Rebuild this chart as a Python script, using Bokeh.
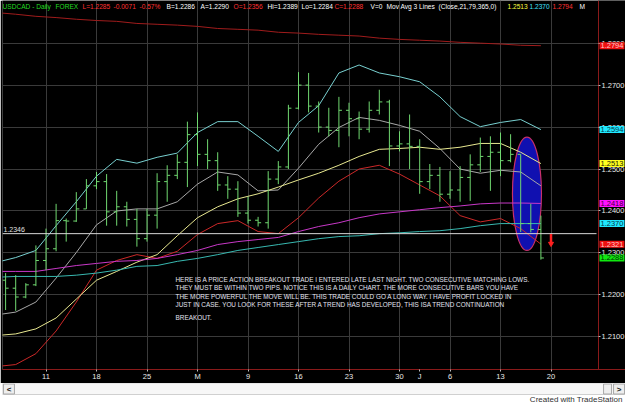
import numpy as np
from bokeh.plotting import figure
from bokeh.models import Range1d, FixedTicker, NumeralTickFormatter, Label
from bokeh.layouts import column
from bokeh.embed import file_html
from bokeh.resources import INLINE

# ---------------- data (USDCAD daily) ----------------
bar_idx = list(range(1, 55))          # trading-day index, 0 = Mon Apr 4
bar_open = [1.2235, 1.2216, 1.2195, 1.2224, 1.2282, 1.2310, 1.2377, 1.2376, 1.2405, 1.2460,
            1.2470, 1.2398, 1.2410, 1.2380, 1.2334, 1.2390, 1.2470, 1.2485, 1.2516, 1.2582,
            1.2535, 1.2520, 1.2462, 1.2452, 1.2395, 1.2378, 1.2372, 1.2476, 1.2505, 1.2645,
            1.2700, 1.2650, 1.2600, 1.2592, 1.2640, 1.2620, 1.2595, 1.2640, 1.2660, 1.2555,
            1.2560, 1.2554, 1.2470, 1.2485, 1.2440, 1.2450, 1.2480, 1.2510, 1.2530, 1.2540,
            1.2520, 1.2535, 1.2370, 1.2356]
bar_high = [1.2252, 1.2247, 1.2228, 1.2318, 1.2358, 1.2417, 1.2382, 1.2445, 1.2476, 1.2493,
            1.2488, 1.2448, 1.2422, 1.2405, 1.2405, 1.2490, 1.2509, 1.2535, 1.2613, 1.2635,
            1.2571, 1.2540, 1.2483, 1.2471, 1.2434, 1.2386, 1.2495, 1.2519, 1.2653, 1.2731,
            1.2729, 1.2661, 1.2646, 1.2672, 1.2658, 1.2637, 1.2661, 1.2689, 1.2665, 1.2590,
            1.2630, 1.2571, 1.2512, 1.2505, 1.2495, 1.2507, 1.2535, 1.2575, 1.2578, 1.2587,
            1.2583, 1.2535, 1.2417, 1.2389]
bar_low = [1.2164, 1.2162, 1.2192, 1.2221, 1.2259, 1.2304, 1.2327, 1.2374, 1.2405, 1.2452,
           1.2365, 1.2365, 1.2363, 1.2315, 1.2327, 1.2358, 1.2422, 1.2476, 1.2457, 1.2507,
           1.2500, 1.2448, 1.2429, 1.2386, 1.2370, 1.2363, 1.2358, 1.2464, 1.2500, 1.2642,
           1.2635, 1.2587, 1.2578, 1.2552, 1.2578, 1.2571, 1.2587, 1.2630, 1.2507, 1.2542,
           1.2500, 1.2441, 1.2452, 1.2422, 1.2429, 1.2422, 1.2424, 1.2493, 1.2448, 1.2483,
           1.2516, 1.2350, 1.2349, 1.2284]
bar_close = [1.2216, 1.2195, 1.2224, 1.2282, 1.2310, 1.2377, 1.2376, 1.2405, 1.2460, 1.2470,
             1.2398, 1.2410, 1.2380, 1.2334, 1.2390, 1.2470, 1.2485, 1.2516, 1.2582, 1.2535,
             1.2520, 1.2462, 1.2452, 1.2395, 1.2378, 1.2372, 1.2476, 1.2505, 1.2645, 1.2700,
             1.2650, 1.2600, 1.2592, 1.2640, 1.2620, 1.2595, 1.2640, 1.2660, 1.2555, 1.2560,
             1.2554, 1.2470, 1.2485, 1.2440, 1.2450, 1.2480, 1.2510, 1.2530, 1.2540, 1.2520,
             1.2535, 1.2370, 1.2356, 1.2288]

line_idx = [0, 2, 4, 6, 8, 10, 12, 14, 16, 18, 20, 22, 24, 26, 28, 30, 32, 34, 36, 38,
            40, 42, 44, 46, 48, 50, 52, 54]
band_upper = [1.2277, 1.2289, 1.2306, 1.2365, 1.2422, 1.2483, 1.2523, 1.2514, 1.2528, 1.2538,
              1.2587, 1.2613, 1.2613, 1.2578, 1.2542, 1.2611, 1.2651, 1.2729, 1.2748, 1.2729,
              1.2720, 1.2708, 1.2672, 1.2625, 1.2601, 1.2611, 1.2618, 1.2594]
band_mid = [1.2152, 1.2159, 1.2183, 1.2240, 1.2301, 1.2367, 1.2400, 1.2405, 1.2405, 1.2422,
            1.2464, 1.2493, 1.2486, 1.2448, 1.2450, 1.2502, 1.2559, 1.2599, 1.2623, 1.2616,
            1.2604, 1.2590, 1.2549, 1.2500, 1.2490, 1.2497, 1.2493, 1.2460]
band_lower = [1.2029, 1.2034, 1.2060, 1.2114, 1.2183, 1.2259, 1.2282, 1.2296, 1.2287, 1.2304,
              1.2344, 1.2370, 1.2377, 1.2351, 1.2346, 1.2384, 1.2431, 1.2471, 1.2500, 1.2509,
              1.2488, 1.2462, 1.2436, 1.2389, 1.2374, 1.2382, 1.2358, 1.2321]
ma21 = [1.2103, 1.2107, 1.2119, 1.2145, 1.2190, 1.2235, 1.2256, 1.2278, 1.2296, 1.2341,
        1.2384, 1.2410, 1.2429, 1.2441, 1.2457, 1.2474, 1.2490, 1.2509, 1.2530, 1.2547,
        1.2549, 1.2552, 1.2547, 1.2552, 1.2561, 1.2561, 1.2540, 1.2513]
ma79 = [1.2242, 1.2244, 1.2244, 1.2244, 1.2247, 1.2252, 1.2259, 1.2268, 1.2270, 1.2280,
        1.2287, 1.2296, 1.2306, 1.2313, 1.2320, 1.2327, 1.2334, 1.2339, 1.2341, 1.2346,
        1.2348, 1.2351, 1.2353, 1.2358, 1.2365, 1.2370, 1.2370, 1.2370]
ma365 = [1.2873, 1.2869, 1.2864, 1.2861, 1.2857, 1.2854, 1.2852, 1.2847, 1.2845, 1.2843,
         1.2840, 1.2835, 1.2833, 1.2831, 1.2826, 1.2824, 1.2821, 1.2819, 1.2817, 1.2812,
         1.2809, 1.2807, 1.2805, 1.2802, 1.2800, 1.2798, 1.2795, 1.2794]
ma_magenta = [1.2256, 1.2256, 1.2256, 1.2263, 1.2270, 1.2275, 1.2280, 1.2282, 1.2287, 1.2296,
              1.2306, 1.2320, 1.2327, 1.2332, 1.2337, 1.2351, 1.2363, 1.2372, 1.2384, 1.2393,
              1.2398, 1.2403, 1.2408, 1.2412, 1.2417, 1.2419, 1.2419, 1.2418]

date_tick_idx = [5, 10, 15, 20, 25, 30, 35, 40, 42, 45, 50, 55]
date_tick_labels = ["11", "18", "25", "M", "9", "16", "23", "30", "J", "6", "13", "20"]
week_idx = [5, 10, 15, 20, 25, 30, 35, 40, 45, 50, 55]
price_ticks = [1.21, 1.22, 1.23, 1.24, 1.25, 1.26, 1.27, 1.28]

breakout_level = 1.2346
ellipse_x, ellipse_y, ellipse_w, ellipse_h = 52.62, 1.2441, 2.87, 0.0270
marker_idx, marker_top, marker_bottom = 55, 1.2345, 1.2322

title_parts = [("USDCAD - Daily", "#22dd22", 2), ("FOREX", "#22dd22", 55),
               ("L=1.2285", "#ff3030", 82), ("-0.0071", "#ff3030", 113),
               ("-0.57%", "#ff3030", 139), ("B=1.2286", "#ffffff", 166),
               ("A=1.2290", "#ffffff", 200), ("O=1.2356", "#ff3030", 233),
               ("Hi=1.2389", "#ffffff", 267), ("Lo=1.2284", "#ffffff", 301),
               ("C=1.2288", "#ff3030", 334), ("V=0", "#ffffff", 370),
               ("Mov Avg 3 Lines", "#ffffff", 386), ("(Close,21,79,365,0)", "#ffffff", 438),
               ("1.2513", "#ffff40", 507), ("1.2370", "#40e0ff", 529),
               ("1.2794", "#ff3030", 552), ("M", "#ffffff", 579)]

note_lines = ["HERE IS A PRICE ACTION BREAKOUT TRADE I ENTERED LATE LAST NIGHT. TWO CONSECUTIVE MATCHING LOWS.",
              "THEY MUST BE WITHIN TWO PIPS. NOTICE THIS IS A DAILY CHART. THE MORE CONSECUTIVE BARS YOU HAVE",
              "THE MORE POWERFUL THE MOVE WILL BE. THIS TRADE COULD GO A LONG WAY. I HAVE PROFIT LOCKED IN",
              "JUST IN CASE.   YOU  LOOK FOR THESE AFTER A TREND HAS DEVELOPED, THIS ISA TREND CONTINUATION",
              "BREAKOUT."]

# ---------------- layout constants ----------------
W, H_MAIN, H_FOOT = 625, 383, 20
FL, FT, FB = 2, 0, 372          # frame left/top/bottom in canvas px (frame spans to the right edge)
AXIS_PX = 598                   # where the price scale sits
PX_PER_BAR, PX_OFF = 10.1, -5.0
FONT = "Liberation Sans"


def px2x(px):
    return (px - PX_OFF) / PX_PER_BAR


X0, X1 = px2x(FL), px2x(W)
Y0, Y1 = 1.20222, 1.29017


def py2y(py):
    return Y1 - (py - FT) / (FB - FT) * (Y1 - Y0)


p = figure(width=W, height=H_MAIN, x_range=Range1d(X0, X1), y_range=Range1d(Y0, Y1),
           output_backend="svg", toolbar_location=None, y_axis_location="right",
           background_fill_color="black", border_fill_color="black",
           min_border_left=FL, min_border_right=0, min_border_top=0,
           min_border_bottom=H_MAIN - FB)
p.outline_line_color = None

# axes
xa = p.xaxis[0]
xa.ticker = FixedTicker(ticks=date_tick_idx)
xa.major_label_overrides = {t: l for t, l in zip(date_tick_idx, date_tick_labels)}
ya = p.yaxis[0]
ya.fixed_location = px2x(AXIS_PX)
ya.ticker = FixedTicker(ticks=price_ticks)
ya.formatter = NumeralTickFormatter(format="0.0000")
for ax in (xa, ya):
    ax.axis_line_color = "#8a1a1a"
    ax.major_tick_line_color = "#c0c0c0"
    ax.minor_tick_line_color = None
    ax.major_tick_out = 2
    ax.major_tick_in = 0
    ax.major_label_standoff = 1
    ax.major_label_text_color = "#e8e8e8"
    ax.major_label_text_font = FONT
    ax.major_label_text_font_size = "7.5px"
xa.major_label_standoff = 0

p.xgrid.ticker = FixedTicker(ticks=week_idx)
p.xgrid.grid_line_color = "#3a3a3a"
p.ygrid.grid_line_color = "#3a3a3a"

# black strip behind the price scale (hides grid there)
p.quad(left=[px2x(AXIS_PX)], right=[X1], bottom=[Y0], top=[Y1],
       fill_color="black", line_color=None)

# ellipse highlight
p.ellipse(x=[ellipse_x], y=[ellipse_y], width=[ellipse_w], height=[ellipse_h],
          fill_color="#1010b0", line_color="#c8306a", line_width=1.2)

# indicator lines
p.line(line_idx, ma365, line_color="#a01c1c", line_width=1)
p.line(line_idx, band_upper, line_color="#78d0d0", line_width=1)
p.line(line_idx, band_mid, line_color="#a8a8a8", line_width=1)
p.line(line_idx, band_lower, line_color="#cc2828", line_width=1)
p.line(line_idx, ma21, line_color="#e8e890", line_width=1)
p.line(line_idx, ma_magenta, line_color="#c838c8", line_width=1)
p.line(line_idx, ma79, line_color="#38b8b0", line_width=1)

# price bars (OHLC)
bi = np.array(bar_idx, dtype=float)
bar_col = "#70d870"
p.segment(x0=bi, y0=bar_low, x1=bi, y1=bar_high, line_color=bar_col, line_width=1)
p.segment(x0=bi - 0.3, y0=bar_open, x1=bi, y1=bar_open, line_color=bar_col, line_width=1)
p.segment(x0=bi, y0=bar_close, x1=bi + 0.3, y1=bar_close, line_color=bar_col, line_width=1)

# breakout line
p.segment(x0=[X0], y0=[breakout_level], x1=[px2x(AXIS_PX - 2)], y1=[breakout_level],
          line_color="#d8d8d8", line_width=1)
p.add_layout(Label(x=px2x(3), y=breakout_level, y_offset=2, text=f"{breakout_level:.4f}",
                   text_color="#e0e0e0", text_font=FONT, text_font_size="7px",
                   text_baseline="bottom"))

# red marker
p.segment(x0=[marker_idx], y0=[marker_top], x1=[marker_idx], y1=[marker_bottom],
          line_color="#ff2020", line_width=2.5)
p.scatter(x=[marker_idx], y=[marker_bottom], marker="inverted_triangle", size=5,
          fill_color="#ff2020", line_color="#ff2020")

# title strip
for txt, col, px in title_parts:
    p.add_layout(Label(x=px2x(px), y=py2y(6.5), text=txt, text_color=col, text_font=FONT,
                       text_font_size="6.6px", text_baseline="middle"))

# notes
note_y = [281, 289.5, 298, 306.5, 320]
for txt, yy in zip(note_lines, note_y):
    p.add_layout(Label(x=px2x(175), y=py2y(yy), text=txt, text_color="#e4e4f0",
                       text_font=FONT, text_font_size="6.4px", text_baseline="middle"))

# last-value boxes on the price scale
boxes = [(ma365[-1], "#ee1010", "#ffc8c8"), (band_upper[-1], "#20e8ff", "#003848"),
         (ma21[-1], "#ffff20", "#202000"), (ma_magenta[-1], "#ff10ff", "#400040"),
         (ma79[-1], "#20e8ff", "#003848"), (band_lower[-1], "#ee1010", "#ffc8c8"),
         (bar_close[-1], "#10e810", "#003000")]
for val, bg, fg in boxes:
    p.add_layout(Label(x=px2x(AXIS_PX + 1), y=val, text=f"{val:.4f}", text_color=fg,
                       text_font=FONT, text_font_size="7.5px", text_baseline="middle",
                       background_fill_color=bg, padding=1))

# ---------------- footer (scroll bar + credit) ----------------
f = figure(width=W, height=H_FOOT, x_range=Range1d(0, W), y_range=Range1d(H_FOOT, 0),
           output_backend="svg", toolbar_location=None, x_axis_location=None,
           y_axis_location=None, min_border=0, background_fill_color="white",
           border_fill_color="white")
f.outline_line_color = None
f.grid.visible = False
f.quad(left=[0], right=[W], top=[0], bottom=[11], fill_color="#f7f7f7", line_color="#d0d0d0")
f.quad(left=[1], right=[12], top=[0.5], bottom=[10.5], fill_color="#eeeeee", line_color="#a8a8a8")
f.quad(left=[603], right=[611], top=[0.5], bottom=[10.5], fill_color="#eeeeee", line_color="#a8a8a8")
f.quad(left=[613], right=[624], top=[0.5], bottom=[10.5], fill_color="#eeeeee", line_color="#a8a8a8")
f.text(x=[6.5, 618.5], y=[5.5, 5.5], text=["<", ">"], text_align="center",
       text_baseline="middle", text_font_size="8px", text_color="#202020", text_font_style="bold")
f.text(x=[622], y=[15.5], text=["Created with TradeStation"], text_align="right",
       text_baseline="middle", text_font_size="8px", text_color="#303030")

layout = column(p, f, spacing=0)
open("out.html", "w").write(file_html(layout, INLINE))
